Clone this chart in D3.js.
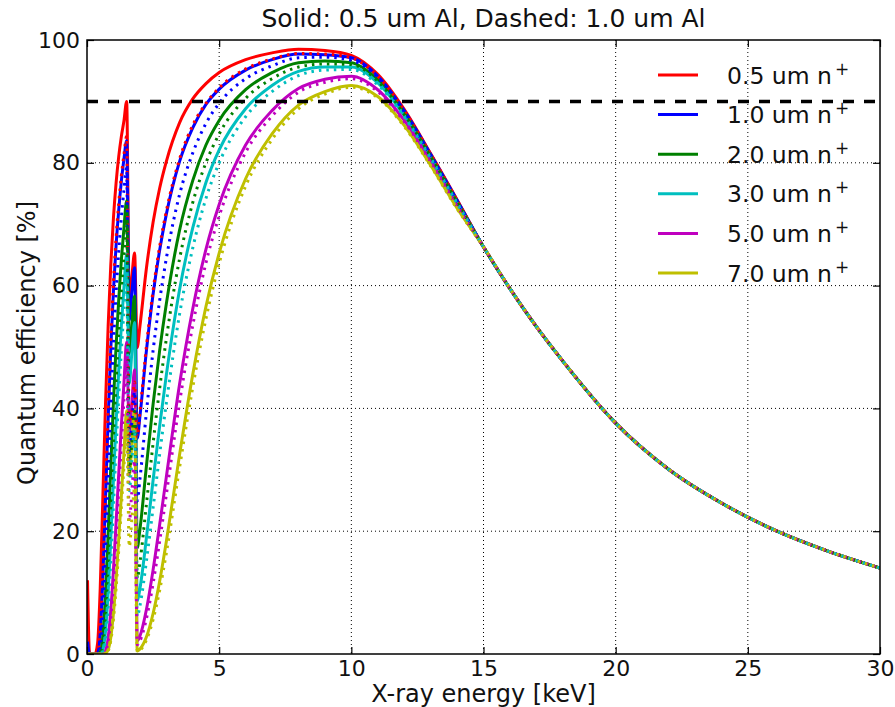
<!DOCTYPE html>
<html>
<head>
<meta charset="utf-8">
<script src="https://cdn.jsdelivr.net/npm/d3@7"></script>
<style>
  body { margin: 0; background: #fff; }
  svg { display: block; font-family: "DejaVu Sans", sans-serif; }
</style>
</head>
<body>
<svg id="chart" width="895" height="707"></svg>
<script>
const energyKeV = [0.02, 0.1, 0.2, 0.3, 0.4, 0.5, 0.6, 0.7, 0.8, 0.9,
                   1.0, 1.1, 1.2, 1.3, 1.4, 1.5, 1.6, 1.7, 1.8, 1.9,
                   2.0, 2.25, 2.5, 2.75, 3.0, 3.5, 4.0, 4.5, 5.0, 6.0,
                   7.0, 8.0, 9.0, 10, 11, 12, 13, 14];

// solid: 0.5 um Al
const solid05 = [12, 0, 0, 0, 1.7, 10.7, 25.6, 40.7, 53.4, 63.4, 71.0, 76.7, 81.0, 84.3, 86.9, 90.0, 57.3, 61.6, 65.3, 49.9, 53.3, 62.9, 70.3, 75.9, 80.2, 86.5, 90.4, 92.9, 94.7, 96.8, 97.9, 98.5, 98.3, 97.5, 94.4, 88.7, 81.5, 74.0];
const solid10 = [2, 0, 0, 0, 0.2, 3.3, 12.4, 25.2, 38.2, 49.7, 59.1, 66.5, 72.3, 77.0, 80.7, 83.6, 54.4, 58.9, 62.9, 35.1, 38.6, 49.5, 58.6, 65.8, 71.6, 80.2, 85.7, 89.5, 92.0, 95.1, 96.8, 97.7, 97.6, 97.1, 94.1, 88.5, 81.4, 73.9];
const solid20 = [0, 0, 0, 0, 0, 0.3, 2.9, 9.7, 19.6, 30.6, 41.0, 50.1, 57.7, 64.2, 69.5, 73.8, 49.0, 53.9, 58.3, 17.3, 20.2, 30.7, 40.7, 49.5, 57.0, 69.0, 77.1, 82.9, 86.9, 91.9, 94.7, 96.3, 96.6, 96.3, 93.5, 88.1, 81.1, 73.7];
const solid30 = [0, 0, 0, 0, 0, 0, 0.7, 3.7, 10.0, 18.8, 28.4, 37.7, 46.1, 53.5, 59.8, 65.2, 44.1, 49.3, 54.0, 8.6, 10.6, 19.0, 28.3, 37.2, 45.4, 59.3, 69.4, 76.8, 82.1, 88.8, 92.6, 94.9, 95.6, 95.6, 93.0, 87.7, 80.8, 73.5];
const solid50 = [0, 0, 0, 0, 0, 0, 0, 0.5, 2.6, 7.1, 13.7, 21.4, 29.3, 37.2, 44.3, 50.8, 35.8, 41.2, 46.3, 2.1, 2.9, 7.3, 13.7, 21.1, 28.8, 43.9, 56.2, 65.9, 73.2, 82.9, 88.5, 92.1, 93.6, 94.1, 91.9, 86.9, 80.2, 73.0];
const solid70 = [0, 0, 0, 0, 0, 0, 0, 0.1, 0.7, 2.7, 6.6, 12.1, 18.7, 25.8, 32.9, 39.6, 29.0, 34.5, 39.8, 0.5, 0.8, 2.8, 6.6, 11.9, 18.3, 32.4, 45.5, 56.6, 65.3, 77.4, 84.7, 89.4, 91.6, 92.6, 90.8, 86.1, 79.6, 72.6];

// dashed: 1.0 um Al
const dashed05 = [0, 0, 0, 0, 0.3, 3.8, 13.6, 26.8, 39.9, 51.3, 60.5, 67.8, 73.4, 77.9, 81.4, 84.3, 34.6, 39.6, 44.3, 35.4, 39.3, 50.2, 59.2, 66.4, 72.1, 80.6, 86.1, 89.7, 92.2, 95.3, 96.9, 97.8, 97.7, 97.1, 94.1, 88.5, 81.4, 73.9];
const dashed10 = [0, 0, 0, 0, 0, 1.2, 6.6, 16.6, 28.5, 40.2, 50.4, 58.8, 65.5, 71.1, 75.6, 79.2, 32.8, 37.9, 42.7, 24.9, 28.4, 39.5, 49.4, 57.6, 64.4, 74.8, 81.6, 86.4, 89.7, 93.7, 95.8, 97.1, 97.2, 96.7, 93.9, 88.3, 81.2, 73.8];
const dashed20 = [0, 0, 0, 0, 0, 0.1, 1.5, 6.4, 14.6, 24.7, 34.9, 44.3, 52.3, 59.3, 65.1, 69.9, 29.6, 34.7, 39.5, 12.3, 14.9, 24.5, 34.3, 43.3, 51.3, 64.3, 73.5, 80.0, 84.7, 90.5, 93.7, 95.6, 96.1, 96.0, 93.3, 87.9, 81.0, 73.6];
const dashed30 = [0, 0, 0, 0, 0, 0, 0.4, 2.4, 7.5, 15.2, 24.2, 33.3, 41.8, 49.4, 56.0, 61.7, 26.6, 31.7, 36.6, 6.1, 7.8, 15.2, 23.8, 32.6, 40.8, 55.3, 66.1, 74.2, 80.0, 87.5, 91.6, 94.2, 95.1, 95.2, 92.7, 87.5, 80.7, 73.4];
const dashed50 = [0, 0, 0, 0, 0, 0, 0, 0.4, 2.0, 5.8, 11.6, 18.9, 26.6, 34.3, 41.5, 48.1, 21.6, 26.6, 31.5, 1.5, 2.1, 5.8, 11.5, 18.4, 25.9, 40.9, 53.5, 63.7, 71.3, 81.7, 87.6, 91.5, 93.1, 93.7, 91.6, 86.7, 80.1, 72.9];
const dashed70 = [0, 0, 0, 0, 0, 0, 0, 0, 0.5, 2.2, 5.6, 10.7, 16.9, 23.9, 30.8, 37.5, 17.5, 22.2, 27.0, 0.4, 0.6, 2.3, 5.6, 10.4, 16.4, 30.3, 43.4, 54.6, 63.6, 76.2, 83.8, 88.8, 91.2, 92.3, 90.6, 85.9, 79.5, 72.5];

// above ~14 keV all twelve curves sit on top of each other
const tailKeV = [15, 16, 17, 18, 20, 22, 24, 26, 28, 30];
const tailQE  = [66.3, 59.5, 53.3, 47.7, 37.6, 30.1, 24.6, 20.2, 16.8, 14.0];

const nPlusLabels = ["0.5", "1.0", "2.0", "3.0", "5.0", "7.0"];
const seriesColors = ["#ff0000", "#0000ff", "#008000", "#00bfbf", "#bf00bf", "#bfbf00"];
const xTicks = [0, 5, 10, 15, 20, 25, 30];
const yTicks = [0, 20, 40, 60, 80, 100];
const qeTarget = 90;

const solidSeries  = [solid05, solid10, solid20, solid30, solid50, solid70];
const dashedSeries = [dashed05, dashed10, dashed20, dashed30, dashed50, dashed70];

const svg = d3.select("#chart");
const plotL = 87, plotR = 880, plotT = 40, plotB = 654;

const x = d3.scaleLinear().domain([0, 30]).range([plotL, plotR]);
const y = d3.scaleLinear().domain([0, 100]).range([plotB, plotT]);

svg.append("rect").attr("width", 895).attr("height", 707).attr("fill", "#fff");

svg.append("defs").append("clipPath").attr("id", "plotclip")
   .append("rect").attr("x", plotL).attr("y", plotT)
   .attr("width", plotR - plotL).attr("height", plotB - plotT);

// dotted grid
const grid = svg.append("g").attr("stroke", "#000").attr("stroke-width", 1)
                .attr("stroke-dasharray", "1,3");
grid.selectAll(".gx").data(xTicks.slice(1, -1)).enter().append("line")
    .attr("x1", d => x(d)).attr("x2", d => x(d))
    .attr("y1", plotT).attr("y2", plotB);
grid.selectAll(".gy").data(yTicks.slice(1, -1)).enter().append("line")
    .attr("x1", plotL).attr("x2", plotR)
    .attr("y1", d => y(d)).attr("y2", d => y(d));

const line = d3.line()
    .x(d => x(d[0]))
    .y(d => y(d[1]))
    .curve(d3.curveMonotoneX);

function toPoints(vals) {
    return energyKeV.map((e, i) => [e, vals[i]])
        .concat(tailKeV.map((e, i) => [e, tailQE[i]]));
}

const curves = svg.append("g").attr("clip-path", "url(#plotclip)")
                  .attr("fill", "none");

solidSeries.forEach((vals, i) => {
    curves.append("path")
        .attr("d", line(toPoints(vals)))
        .attr("stroke", seriesColors[i])
        .attr("stroke-width", 3);
});
dashedSeries.forEach((vals, i) => {
    curves.append("path")
        .attr("d", line(toPoints(vals)))
        .attr("stroke", seriesColors[i])
        .attr("stroke-width", 3)
        .attr("stroke-dasharray", "2.5,5");
});

// 90 % reference line
svg.append("line")
   .attr("x1", x(0)).attr("x2", x(30))
   .attr("y1", y(qeTarget)).attr("y2", y(qeTarget))
   .attr("stroke", "#000").attr("stroke-width", 3.5)
   .attr("stroke-dasharray", "11,10");

// axes, ticks pointing inward on all four sides
function styleAxis(g) {
    g.select(".domain").remove();
    g.selectAll("line").attr("stroke", "#000").attr("stroke-width", 1.2);
    g.attr("font-family", "DejaVu Sans").attr("font-size", 22);
    g.selectAll("text").attr("fill", "#111");
}

svg.append("g").attr("transform", `translate(0,${plotB})`)
   .call(d3.axisBottom(x).tickValues(xTicks).tickSize(-7).tickSizeOuter(0).tickPadding(6))
   .call(styleAxis);
svg.append("g").attr("transform", `translate(0,${plotT})`)
   .call(d3.axisTop(x).tickValues(xTicks).tickSize(-7).tickSizeOuter(0).tickFormat(""))
   .call(styleAxis);
svg.append("g").attr("transform", `translate(${plotL},0)`)
   .call(d3.axisLeft(y).tickValues(yTicks).tickSize(-7).tickSizeOuter(0).tickPadding(7))
   .call(styleAxis);
svg.append("g").attr("transform", `translate(${plotR},0)`)
   .call(d3.axisRight(y).tickValues(yTicks).tickSize(-7).tickSizeOuter(0).tickFormat(""))
   .call(styleAxis);

svg.append("rect")
   .attr("x", plotL).attr("y", plotT)
   .attr("width", plotR - plotL).attr("height", plotB - plotT)
   .attr("fill", "none").attr("stroke", "#000").attr("stroke-width", 1.5);

svg.append("text")
   .attr("x", (plotL + plotR) / 2).attr("y", 27)
   .attr("text-anchor", "middle").attr("font-size", 25).attr("fill", "#111")
   .text("Solid: 0.5 um Al, Dashed: 1.0 um Al");

svg.append("text")
   .attr("x", (plotL + plotR) / 2).attr("y", 702)
   .attr("text-anchor", "middle").attr("font-size", 24).attr("fill", "#111")
   .text("X-ray energy [keV]");

svg.append("text")
   .attr("transform", `translate(35,${(plotT + plotB) / 2 - 4}) rotate(-90)`)
   .attr("text-anchor", "middle").attr("font-size", 24).attr("fill", "#111")
   .text("Quantum efficiency [%]");

// legend (no frame)
const legend = svg.append("g");
nPlusLabels.forEach((t, i) => {
    const ly = 75 + i * 39.6;
    legend.append("line")
        .attr("x1", 658).attr("x2", 698).attr("y1", ly).attr("y2", ly)
        .attr("stroke", seriesColors[i]).attr("stroke-width", 3);
    const txt = legend.append("text")
        .attr("x", 727).attr("y", ly + 8.5)
        .attr("font-size", 23.5).attr("fill", "#111");
    txt.append("tspan").text(`${t} um n`);
    txt.append("tspan").attr("dx", 3).attr("dy", -9)
       .attr("font-size", 17).text("+");
});
</script>
</body>
</html>
